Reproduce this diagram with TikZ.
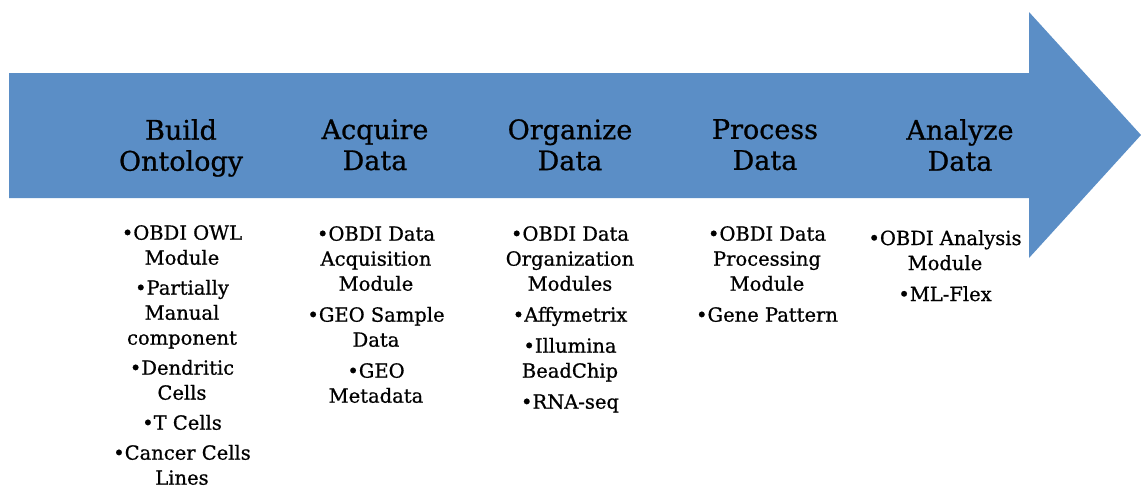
\documentclass[tikz,border=0pt]{standalone}
\usepackage{fontspec}
\setmainfont{DejaVu Serif}[FakeBold=0.8]
\usepackage{tikz}
\usetikzlibrary{positioning}
\definecolor{arrowblue}{RGB}{91,142,198}

\begin{document}
\begin{tikzpicture}[x=1pt, y=-1pt,
    stage/.style={anchor=north, inner sep=0pt, align=center,
      font=\fontsize{27}{31}\selectfont},
    items/.style={anchor=north, inner sep=0pt, align=center,
      font=\fontsize{19.5}{25}\selectfont}]
  \useasboundingbox (0,0) rectangle (1141,491);
  % big process arrow
  \fill[arrowblue] (9,73) -- (1029,73) -- (1029,12) -- (1141,135)
    -- (1029,258) -- (1029,198) -- (9,198) -- cycle;
  % stage titles
  \node[stage] (build) at (181,119) {Build\\Ontology};
  \node[stage] (acquire) at (375,119) {Acquire\\Data};
  \node[stage] (organize) at (570,119) {Organize\\Data};
  \node[stage] (process) at (765,119) {Process\\Data};
  \node[stage] (analyze) at (960,119) {Analyze\\Data};
  % tools under each stage
  \node[items] (buildlist) at (182,225)
    {•OBDI OWL\\Module\\[5pt]•Partially\\Manual\\component\\[5pt]%
     •Dendritic\\Cells\\[5pt]•T Cells\\[5pt]•Cancer Cells\\Lines};
  \node[items] (acquirelist) at (376,226)
    {•OBDI Data\\Acquisition\\Module\\[6pt]•GEO Sample\\Data\\[6pt]%
     •GEO\\Metadata};
  \node[items] (organizelist) at (570,226)
    {•OBDI Data\\Organization\\Modules\\[6pt]•Affymetrix\\[6pt]%
     •Illumina\\BeadChip\\[6pt]•RNA-seq};
  \node[items] (processlist) at (767,226)
    {•OBDI Data\\Processing\\Module\\[6pt]•Gene Pattern};
  \node[items] (analyzelist) at (945,230)
    {•OBDI Analysis\\Module\\[6pt]•ML-Flex};
\end{tikzpicture}
\end{document}
